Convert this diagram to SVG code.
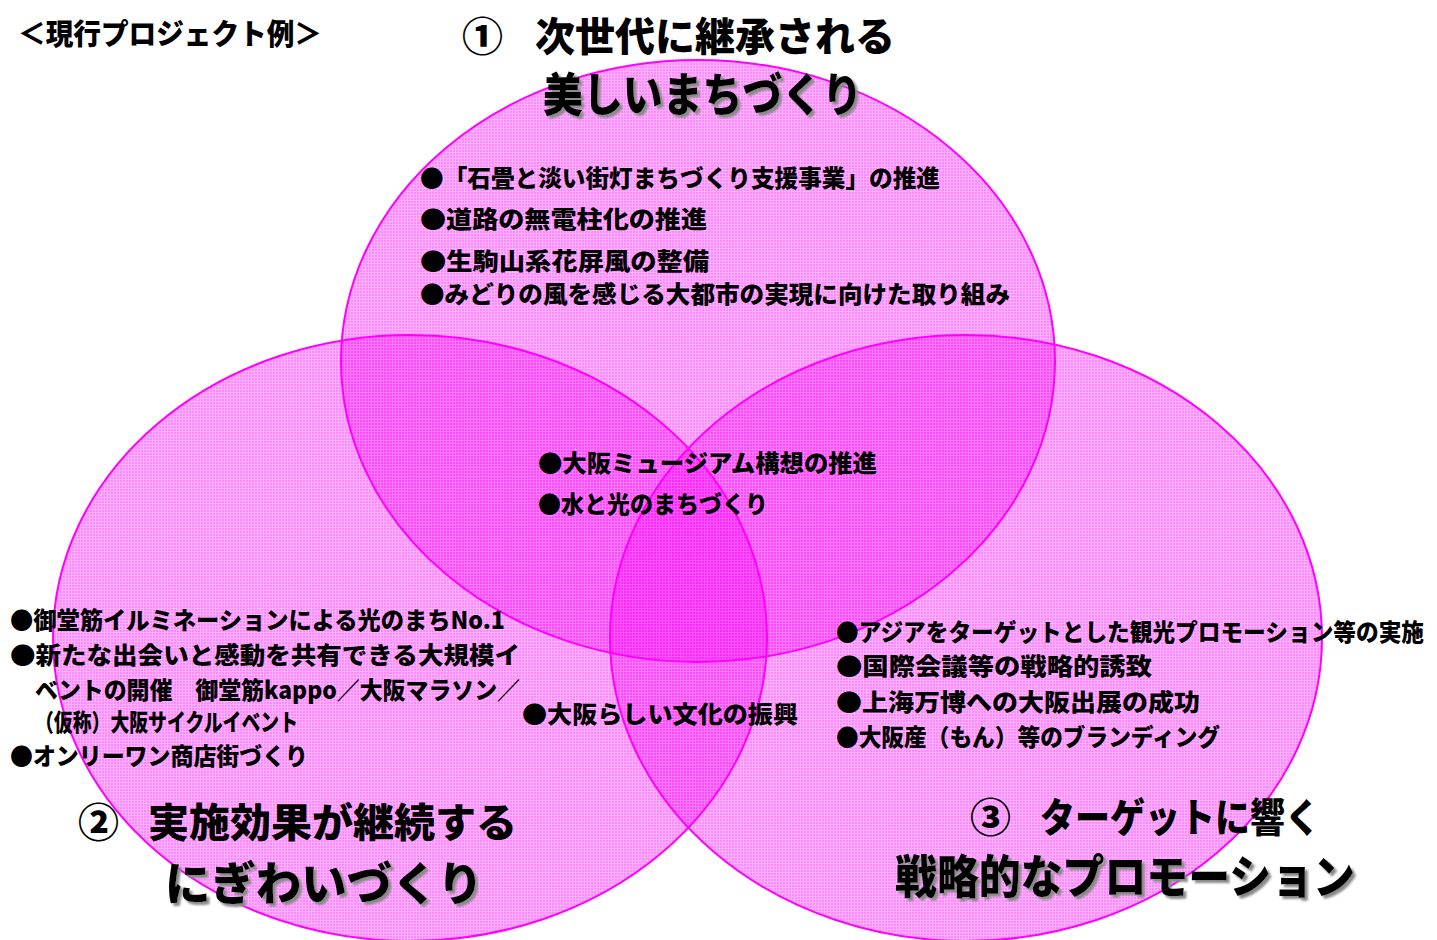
<svg xmlns="http://www.w3.org/2000/svg" width="1437" height="940" viewBox="0 0 1437 940">
<defs>
<filter id="shadow" x="-5%" y="-10%" width="115%" height="130%">
<feDropShadow dx="3" dy="3" stdDeviation="0.8" flood-color="#8a8a8a" flood-opacity="1"/>
</filter>
<pattern id="grid" width="3" height="3" patternUnits="userSpaceOnUse">
<rect width="3" height="3" fill="#ff00ff" fill-opacity="0.3"/>
<rect width="2" height="2" fill="#ff00ff" fill-opacity="0.24"/>
</pattern>
</defs>
<style>
.circle{fill:url(#grid);stroke:#ff00ff;stroke-width:2}
text{font-family:"Noto Sans CJK JP","Noto Sans CJK SC",sans-serif;font-weight:900;fill:#000}
.body{font-size:24px}
.head{font-size:40px}
.big{font-size:46px}
.sh{filter:url(#shadow)}
</style>
<rect width="1437" height="940" fill="#fff"/>
<g id="circles">
<ellipse id="circle-1" class="circle" cx="698" cy="361" rx="357" ry="301"/>
<ellipse id="circle-2" class="circle" cx="410" cy="638" rx="357" ry="303"/>
<ellipse id="circle-3" class="circle" cx="966" cy="638" rx="356" ry="303"/>
</g>
<g id="connectors"></g>
<g id="title">
<text x="18" y="45" font-size="29" textLength="304" lengthAdjust="spacingAndGlyphs">＜現行プロジェクト例＞</text>
</g>
<g id="node-1">
<text class="head" x="462" y="51" textLength="41" lengthAdjust="spacingAndGlyphs">①</text>
<text class="head" x="535" y="51" textLength="360" lengthAdjust="spacingAndGlyphs">次世代に継承される</text>
<text class="big sh" x="543" y="111" font-size="44" textLength="319" lengthAdjust="spacingAndGlyphs">美しいまちづくり</text>
<text class="body" x="420" y="187" textLength="520" lengthAdjust="spacingAndGlyphs">●「石畳と淡い街灯まちづくり支援事業」の推進</text>
<text class="body" x="420" y="228" textLength="287" lengthAdjust="spacingAndGlyphs">●道路の無電柱化の推進</text>
<text class="body" x="420" y="270" textLength="289" lengthAdjust="spacingAndGlyphs">●生駒山系花屏風の整備</text>
<text class="body" x="420" y="303" textLength="590" lengthAdjust="spacingAndGlyphs">●みどりの風を感じる大都市の実現に向けた取り組み</text>
</g>
<g id="node-center">
<text class="body" x="538" y="472" textLength="339" lengthAdjust="spacingAndGlyphs">●大阪ミュージアム構想の推進</text>
<text class="body" x="538" y="513" textLength="230" lengthAdjust="spacingAndGlyphs">●水と光のまちづくり</text>
<text class="body" x="522" y="723" textLength="276" lengthAdjust="spacingAndGlyphs">●大阪らしい文化の振興</text>
</g>
<g id="node-2">
<text class="body" x="10" y="629" textLength="495" lengthAdjust="spacingAndGlyphs">●御堂筋イルミネーションによる光のまちNo.1</text>
<text class="body" x="10" y="664" textLength="510" lengthAdjust="spacingAndGlyphs">●新たな出会いと感動を共有できる大規模イ</text>
<text class="body" x="35" y="699" textLength="485" lengthAdjust="spacingAndGlyphs">ベントの開催　御堂筋kappo／大阪マラソン／</text>
<text class="body" x="35" y="731" textLength="263" lengthAdjust="spacingAndGlyphs">（仮称）大阪サイクルイベント</text>
<text class="body" x="10" y="765" textLength="298" lengthAdjust="spacingAndGlyphs">●オンリーワン商店街づくり</text>
<text class="head" x="78" y="837" textLength="41" lengthAdjust="spacingAndGlyphs">②</text>
<text class="head" x="148" y="837" textLength="369" lengthAdjust="spacingAndGlyphs">実施効果が継続する</text>
<text class="big sh" x="165" y="900" font-size="48" textLength="318" lengthAdjust="spacingAndGlyphs">にぎわいづくり</text>
</g>
<g id="node-3">
<text class="body" x="836" y="641" textLength="588" lengthAdjust="spacingAndGlyphs">●アジアをターゲットとした観光プロモーション等の実施</text>
<text class="body" x="836" y="675" textLength="316" lengthAdjust="spacingAndGlyphs">●国際会議等の戦略的誘致</text>
<text class="body" x="836" y="711" textLength="364" lengthAdjust="spacingAndGlyphs">●上海万博への大阪出展の成功</text>
<text class="body" x="836" y="746" textLength="384" lengthAdjust="spacingAndGlyphs">●大阪産（もん）等のブランディング</text>
<text class="head" x="970" y="832" textLength="41" lengthAdjust="spacingAndGlyphs">③</text>
<text class="head" x="1040" y="832" textLength="280" lengthAdjust="spacingAndGlyphs">ターゲットに響く</text>
<text class="big sh" x="895" y="893" textLength="460" lengthAdjust="spacingAndGlyphs">戦略的なプロモーション</text>
</g>
</svg>
